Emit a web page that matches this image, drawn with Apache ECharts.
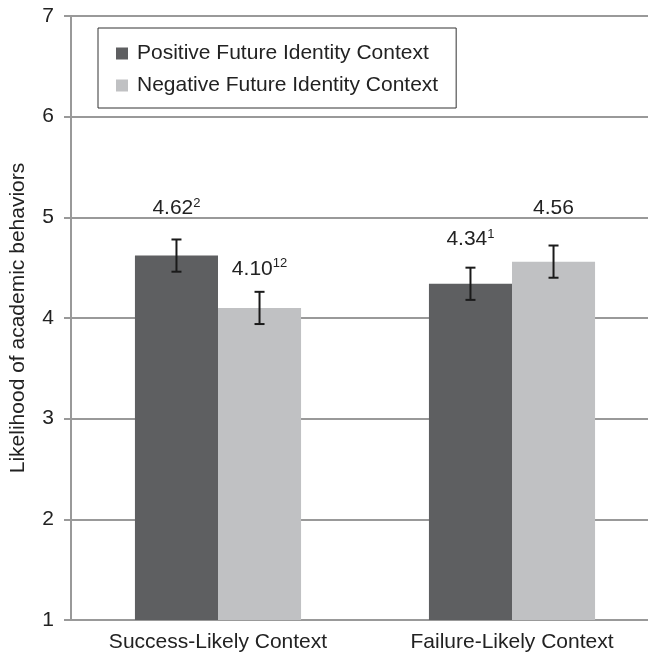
<!DOCTYPE html>
<html>
<head>
<meta charset="utf-8">
<script src="https://cdn.jsdelivr.net/npm/echarts@6/dist/echarts.min.js"></script>
<style>
html,body{margin:0;padding:0;background:#fff;}
#chart{width:648px;height:658px;}
</style>
</head>
<body>
<div id="chart"></div>
<script>
var categories = ['Success-Likely Context', 'Failure-Likely Context'];
var seriesNames = ['Positive Future Identity Context', 'Negative Future Identity Context'];
var positiveMeans = [4.62, 4.34];
var negativeMeans = [4.10, 4.56];
var positiveErr = [0.16, 0.16];
var negativeErr = [0.16, 0.16];
var positiveSup = ['2', '1'];
var negativeSup = ['12', ''];
var yTicks = [1, 2, 3, 4, 5, 6, 7];

// label lift above error-bar top (style only, px)
var positiveLift = [31, 28];
var negativeLift = [23, 37];

var FONT = "'Liberation Sans', Arial, Helvetica, sans-serif";
var colors = ['#5e5f61', '#c0c1c3'];
var catGap = 0.435;

function errSeries(idx, means, errs, sups, lifts) {
  var data = means.map(function (m, i) { return [i, m, errs[i], sups[i], lifts[i]]; });
  return {
    type: 'custom',
    z: 5,
    silent: true,
    data: data,
    renderItem: function (params, api) {
      var ci = api.value(0), m = api.value(1), e = api.value(2);
      var sup = data[params.dataIndex][3];
      var lift = data[params.dataIndex][4];
      var band = api.size([1, 0])[0];
      var barW = band * (1 - catGap) / 2;
      var c = api.coord([ci, m]);
      var x = c[0] + (idx === 0 ? -barW / 2 : barW / 2);
      var yt = api.coord([ci, m + e])[1];
      var yb = api.coord([ci, m - e])[1];
      var cap = 5;
      var ls = { stroke: '#1a1a1a', lineWidth: 2 };
      var txt = '{v|' + m.toFixed(2) + '}' + (sup ? '{s|' + sup + '}' : '');
      return {
        type: 'group',
        children: [
          { type: 'line', shape: { x1: x, y1: yt, x2: x, y2: yb }, style: ls },
          { type: 'line', shape: { x1: x - cap, y1: yt, x2: x + cap, y2: yt }, style: ls },
          { type: 'line', shape: { x1: x - cap, y1: yb, x2: x + cap, y2: yb }, style: ls },
          { type: 'text', x: x, y: yt - lift,
            style: {
              text: txt, align: 'center', verticalAlign: 'middle',
              rich: {
                v: { fontSize: 21, fontFamily: FONT, fill: '#222', lineHeight: 24 },
                s: { fontSize: 13, fontFamily: FONT, fill: '#222', lineHeight: 13, verticalAlign: 'top' }
              }
            }
          }
        ]
      };
    }
  };
}

var chart = echarts.init(document.getElementById('chart'), null, { renderer: 'canvas' });
chart.setOption({
  animation: false,
  backgroundColor: '#fff',
  color: colors,
  legend: {
    orient: 'vertical',
    left: 98, top: 28,
    data: seriesNames,
    icon: 'rect',
    itemWidth: 12, itemHeight: 12,
    itemGap: 11,
    padding: [15, 18, 12, 18],
    borderColor: '#333', borderWidth: 1,
    backgroundColor: '#fff',
    textStyle: { fontSize: 21, fontFamily: FONT, color: '#222', lineHeight: 21, padding: [0, 0, 0, 4] },
    z: 10
  },
  grid: { left: 71, top: 16, bottom: 38, width: 588, containLabel: false, outerBoundsMode: 'none' },
  xAxis: {
    type: 'category',
    data: categories,
    axisLine: { lineStyle: { color: '#999', width: 2 } },
    axisTick: { show: false },
    axisLabel: { fontSize: 21, fontFamily: FONT, color: '#222', margin: 12 }
  },
  yAxis: {
    type: 'value',
    min: yTicks[0], max: yTicks[yTicks.length - 1], interval: 1,
    name: 'Likelihood of academic behaviors',
    nameLocation: 'middle', nameRotate: 90, nameGap: 42,
    nameTextStyle: { fontSize: 21, fontFamily: FONT, color: '#222' },
    axisLine: { show: true, lineStyle: { color: '#999', width: 2 } },
    axisTick: { show: true, length: 7, lineStyle: { color: '#999', width: 2 } },
    axisLabel: { fontSize: 21, fontFamily: FONT, color: '#222', margin: 17 },
    splitLine: { show: true, lineStyle: { color: '#999', width: 2 } }
  },
  series: [
    { name: seriesNames[0], type: 'bar', data: positiveMeans, barGap: '0%', barCategoryGap: (catGap * 100) + '%', itemStyle: { color: colors[0] } },
    { name: seriesNames[1], type: 'bar', data: negativeMeans, barGap: '0%', barCategoryGap: (catGap * 100) + '%', itemStyle: { color: colors[1] } },
    errSeries(0, positiveMeans, positiveErr, positiveSup, positiveLift),
    errSeries(1, negativeMeans, negativeErr, negativeSup, negativeLift)
  ]
});
</script>
</body>
</html>
